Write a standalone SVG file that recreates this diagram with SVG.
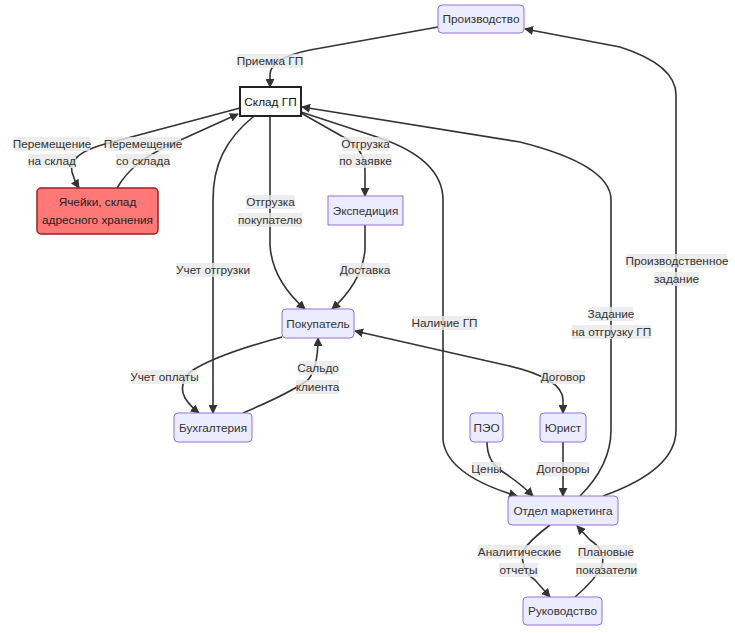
<svg xmlns="http://www.w3.org/2000/svg" width="735" height="633" viewBox="0 0 735 633">
<defs>
<marker id="ah" viewBox="0 0 10 10" refX="9" refY="5" markerWidth="9" markerHeight="9" markerUnits="userSpaceOnUse" orient="auto-start-reverse">
<path d="M0,0 L10,5 L0,10 z" fill="#333"/>
</marker>
<style>
.node rect{fill:#ECECFF;stroke:#9370DB;stroke-width:1}
.node text, .lbl text{font-family:"Liberation Sans",Arial,sans-serif;font-size:11.8px;fill:#333;text-anchor:middle;dominant-baseline:central}
.edges path{fill:none;stroke:#333;stroke-width:1.6}
.lbl rect{fill:#e8e8e8;opacity:0.8}
</style>
</defs>
<rect width="735" height="633" fill="#fff"/>
<g id="connectors" class="edges">
<path d="M438,27 L310,50 Q270,58 270,75 L270,87" marker-end="url(#ah)"/>
<path d="M240,108 L105,144 Q68,154 72,172 Q74,180 79,188" marker-end="url(#ah)"/>
<path d="M117,188 Q125,174 140,162 Q160,148 185,138 L238,114" marker-end="url(#ah)"/>
<path d="M301,113 L345,138 Q365,150 365,170 L365,196" marker-end="url(#ah)"/>
<path d="M270,116 L270,245 Q272,280 305,309" marker-end="url(#ah)"/>
<path d="M254,116 C225,140 213,165 213,200 L213,413" marker-end="url(#ah)"/>
<path d="M365,225 L365,250 Q362,282 332,309" marker-end="url(#ah)"/>
<path d="M282,337 Q215,355 190,372 Q178,385 185,398 Q190,406 199,413" marker-end="url(#ah)"/>
<path d="M243,413 Q290,393 308,380 Q318,368 318,338" marker-end="url(#ah)"/>
<path d="M301,112 L380,138 Q443,160 443,200 L443,440 Q447,475 517,496" marker-end="url(#ah)"/>
<path d="M580,496 Q611,465 611,430 L611,200 Q611,165 520,142 L302,107" marker-end="url(#ah)"/>
<path d="M603,496 Q676,470 676,430 L676,95 Q676,65 620,47 L525,29" marker-end="url(#ah)"/>
<path d="M355,331 L505,365 Q563,378 563,400 L563,413" marker-start="url(#ah)" marker-end="url(#ah)"/>
<path d="M487,442 Q487,460 500,470 Q520,483 533,496" marker-end="url(#ah)"/>
<path d="M563,442 L563,496" marker-end="url(#ah)"/>
<path d="M550,525 Q530,540 522,552 Q522,572 535,580 L550,597" marker-end="url(#ah)"/>
<path d="M575,597 Q595,580 602,566 Q606,550 590,540 L577,526" marker-end="url(#ah)"/>
</g>
<g id="edge-labels" class="lbl">
<rect x="237" y="54" width="66" height="14"/><text x="270" y="61">Приемка ГП</text>
<rect x="14" y="137" width="76" height="14"/><text x="52" y="144">Перемещение</text>
<rect x="28" y="154" width="48" height="14"/><text x="52" y="161">на склад</text>
<rect x="105" y="137" width="76" height="14"/><text x="143" y="144">Перемещение</text>
<rect x="116" y="154" width="54" height="14"/><text x="143" y="161">со склада</text>
<rect x="342" y="137" width="47" height="14"/><text x="365.5" y="144">Отгрузка</text>
<rect x="339" y="154" width="53" height="14"/><text x="365.5" y="161">по заявке</text>
<rect x="246" y="195" width="49" height="14"/><text x="270.5" y="202">Отгрузка</text>
<rect x="238" y="213" width="64" height="14"/><text x="270" y="220">покупателю</text>
<rect x="176" y="263" width="74" height="14"/><text x="213" y="270">Учет отгрузки</text>
<rect x="340" y="263" width="50" height="14"/><text x="365" y="270">Доставка</text>
<rect x="132" y="370" width="65" height="14"/><text x="164.5" y="377">Учет оплаты</text>
<rect x="299" y="361" width="38" height="14"/><text x="318" y="368">Сальдо</text>
<rect x="296" y="380" width="43" height="14"/><text x="317.5" y="387">клиента</text>
<rect x="413" y="316" width="63" height="14"/><text x="444.5" y="323">Наличие ГП</text>
<rect x="589" y="307" width="44" height="14"/><text x="611" y="314">Задание</text>
<rect x="572" y="325" width="79" height="14"/><text x="611.5" y="332">на отгрузку ГП</text>
<rect x="627" y="254" width="100" height="14"/><text x="677" y="261">Производственное</text>
<rect x="654" y="272" width="45" height="14"/><text x="676.5" y="279">задание</text>
<rect x="541" y="370" width="44" height="14"/><text x="563" y="377">Договор</text>
<rect x="472" y="462" width="29" height="14"/><text x="486.5" y="469">Цены</text>
<rect x="537" y="462" width="52" height="14"/><text x="563" y="469">Договоры</text>
<rect x="478" y="545" width="83" height="14"/><text x="519.5" y="552">Аналитические</text>
<rect x="499" y="563" width="39" height="14"/><text x="518.5" y="570">отчеты</text>
<rect x="579" y="545" width="54" height="14"/><text x="606" y="552">Плановые</text>
<rect x="576" y="563" width="61" height="14"/><text x="606.5" y="570">показатели</text>
</g>
<g id="n-proizvodstvo" class="node"><rect x="438" y="5" width="86" height="28" rx="4"/><text x="481" y="19">Производство</text></g>
<g id="n-sklad" class="node"><rect x="240" y="87" width="61" height="29" rx="0" style="fill:#fff;stroke:#222;stroke-width:2"/><text x="270.5" y="101.5" style="fill:#111">Склад ГП</text></g>
<g id="n-yacheiki" class="node"><rect x="37" y="188" width="121" height="46" rx="4" style="fill:#ff7878;stroke:#9c2020;stroke-width:1.5"/><text x="97.5" y="202" style="fill:#222">Ячейки, склад</text><text x="97.5" y="220" style="fill:#222">адресного хранения</text></g>
<g id="n-ekspediciya" class="node"><rect x="328" y="196" width="75" height="29"/><text x="365.5" y="210.5">Экспедиция</text></g>
<g id="n-pokupatel" class="node"><rect x="282" y="309" width="72" height="29" rx="4"/><text x="318" y="323.5">Покупатель</text></g>
<g id="n-buhgalteriya" class="node"><rect x="174" y="413" width="78" height="29" rx="4"/><text x="213" y="427.5">Бухгалтерия</text></g>
<g id="n-peo" class="node"><rect x="470" y="413" width="33" height="29" rx="4"/><text x="486.5" y="427.5">ПЭО</text></g>
<g id="n-yurist" class="node"><rect x="540" y="413" width="46" height="29" rx="4"/><text x="563" y="427.5">Юрист</text></g>
<g id="n-marketing" class="node"><rect x="508" y="496" width="110" height="29" rx="4"/><text x="563" y="510.5">Отдел маркетинга</text></g>
<g id="n-rukovodstvo" class="node"><rect x="523" y="597" width="79" height="28" rx="4"/><text x="562.5" y="611">Руководство</text></g>
</svg>
